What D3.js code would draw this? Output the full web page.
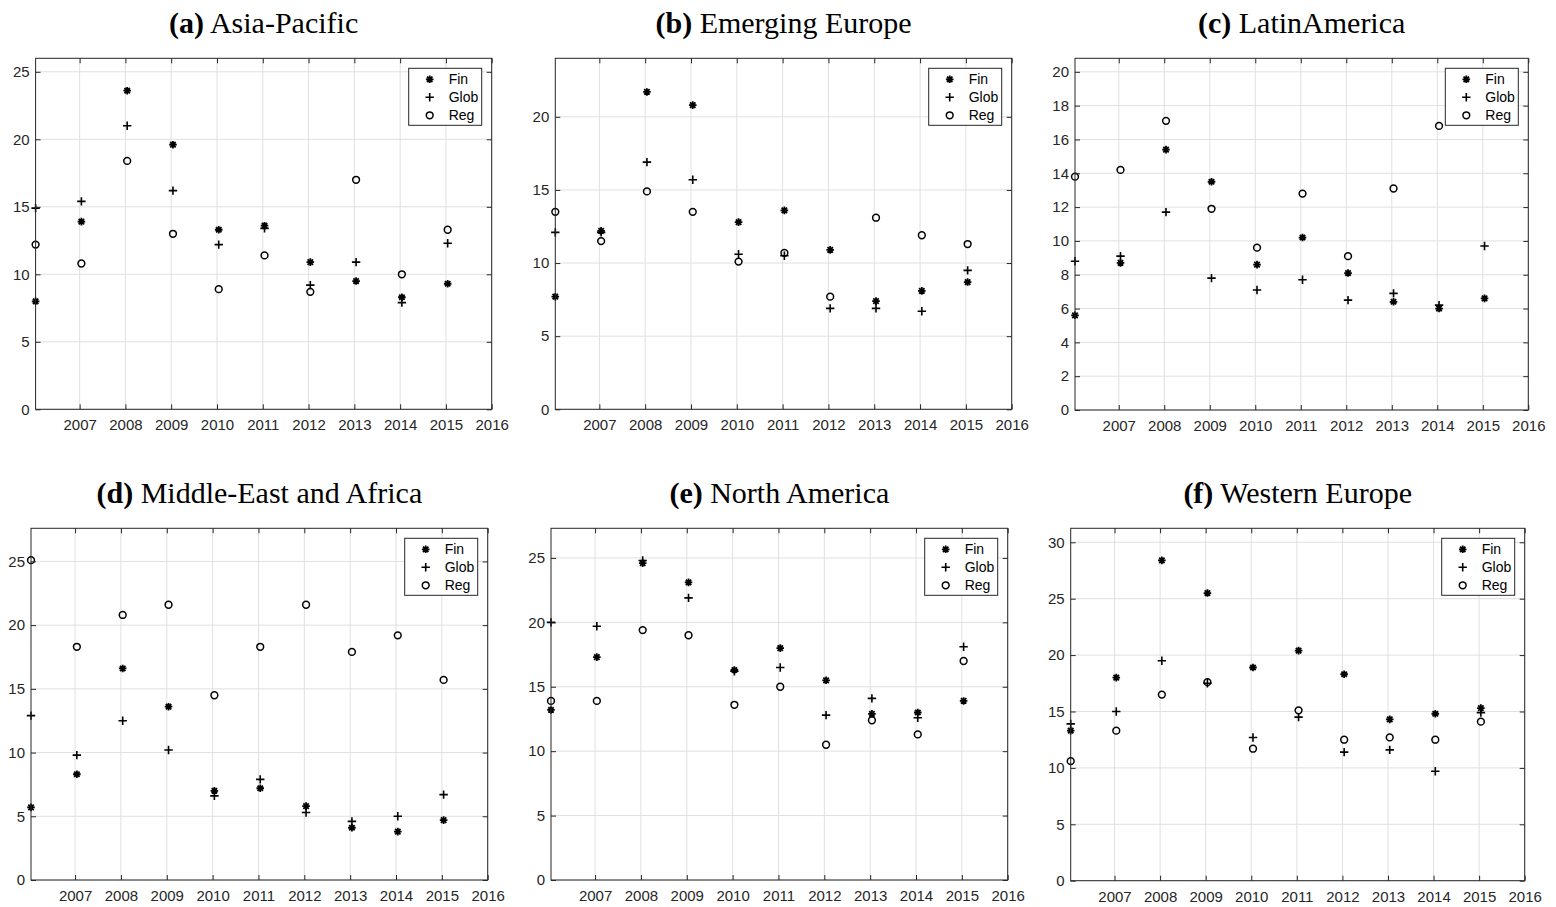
<!DOCTYPE html>
<html>
<head>
<meta charset="utf-8">
<script src="https://cdn.jsdelivr.net/npm/d3@7/dist/d3.min.js"></script>
<style>
  body { margin: 0; background: #fff; }
  svg text { font-family: "Liberation Sans", Arial, sans-serif; }
</style>
</head>
<body>
<div id="fig"></div>
<script>
// years (points sit at mid-January of each year)
var years = [2006, 2007, 2008, 2009, 2010, 2011, 2012, 2013, 2014, 2015];
var xTicks = [2007, 2008, 2009, 2010, 2011, 2012, 2013, 2014, 2015, 2016];
var seriesNames = ["Fin", "Glob", "Reg"];

var titleTags = ["(a)", "(b)", "(c)", "(d)", "(e)", "(f)"];
var titleNames = ["Asia-Pacific", "Emerging Europe", "LatinAmerica", "Middle-East and Africa", "North America", "Western Europe"];

// (a) Asia-Pacific
var asiaFin  = [8.0, 13.9, 23.6, 19.6, 13.3, 13.6, 10.9, 9.5, 8.3, 9.3];
var asiaGlob = [14.9, 15.4, 21.0, 16.2, 12.2, 13.4, 9.2, 10.9, 7.9, 12.3];
var asiaReg  = [12.2, 10.8, 18.4, 13.0, 8.9, 11.4, 8.7, 17.0, 10.0, 13.3];
// (b) Emerging Europe
var eeFin  = [7.7, 12.2, 21.7, 20.8, 12.8, 13.6, 10.9, 7.4, 8.1, 8.7];
var eeGlob = [12.1, 12.1, 16.9, 15.7, 10.6, 10.5, 6.9, 6.9, 6.7, 9.5];
var eeReg  = [13.5, 11.5, 14.9, 13.5, 10.1, 10.7, 7.7, 13.1, 11.9, 11.3];
// (c) LatinAmerica
var laFin  = [5.6, 8.7, 15.4, 13.5, 8.6, 10.2, 8.1, 6.4, 6.0, 6.6];
var laGlob = [8.8, 9.1, 11.7, 7.8, 7.1, 7.7, 6.5, 6.9, 6.2, 9.7];
var laReg  = [13.8, 14.2, 17.1, 11.9, 9.6, 12.8, 9.1, 13.1, 16.8, 18.9];
// (d) Middle-East and Africa
var meaFin  = [5.7, 8.3, 16.6, 13.6, 7.0, 7.2, 5.8, 4.1, 3.8, 4.7];
var meaGlob = [12.9, 9.8, 12.5, 10.2, 6.6, 7.9, 5.3, 4.6, 5.0, 6.7];
var meaReg  = [25.1, 18.3, 20.8, 21.6, 14.5, 18.3, 21.6, 17.9, 19.2, 15.7];
// (e) North America
var naFin  = [13.2, 17.3, 24.6, 23.1, 16.3, 18.0, 15.5, 12.9, 13.0, 13.9];
var naGlob = [20.0, 19.7, 24.8, 21.9, 16.2, 16.5, 12.8, 14.1, 12.6, 18.1];
var naReg  = [13.9, 13.9, 19.4, 19.0, 13.6, 15.0, 10.5, 12.4, 11.3, 17.0];
// (f) Western Europe
var weFin  = [13.3, 18.0, 28.4, 25.5, 18.9, 20.4, 18.3, 14.3, 14.8, 15.3];
var weGlob = [13.9, 15.0, 19.5, 17.5, 12.7, 14.5, 11.4, 11.6, 9.7, 14.9];
var weReg  = [10.6, 13.3, 16.5, 17.6, 11.7, 15.1, 12.5, 12.7, 12.5, 14.1];

var yMaxes  = [26, 24, 20.8, 27.6, 27.3, 31.24];
var yTopTicks = [25, 20, 20, 25, 25, 30];
var ySteps  = [5, 5, 2, 5, 5, 5];

var finData  = [asiaFin, eeFin, laFin, meaFin, naFin, weFin];
var globData = [asiaGlob, eeGlob, laGlob, meaGlob, naGlob, weGlob];
var regData  = [asiaReg, eeReg, laReg, meaReg, naReg, weReg];

var W = 1556, H = 907;
var axisColor = "#262626";
var gridColor = "#e0e0e0";
var dayOffset = 14 / 365;

// plot boxes [left, right, top, bottom]
var boxes = [
  [35.6, 491.7, 58.3, 409.3],
  [555.3, 1011.7, 58.3, 409.3],
  [1075, 1528.3, 58.3, 410],
  [31, 487.7, 528.3, 880],
  [551, 1007.7, 528.3, 880],
  [1070.7, 1524.7, 528.3, 880.7]
];

var svg = d3.select("#fig").append("svg")
  .attr("width", W)
  .attr("height", H);

// marker shapes, MATLAB style
function markerPath(kind) {
  if (kind == "Fin") {
    var r = 3.8, d = 2.7;
    return "M" + (-r) + ",0L" + r + ",0M0," + (-r) + "L0," + r +
           "M" + (-d) + "," + (-d) + "L" + d + "," + d +
           "M" + (-d) + "," + d + "L" + d + "," + (-d);
  }
  if (kind == "Glob") {
    var s = 4.2;
    return "M" + (-s) + ",0L" + s + ",0M0," + (-s) + "L0," + s;
  }
  return null;
}

function drawMarkers(g, kind, pts) {
  if (kind == "Reg") {
    g.selectAll("circle.m")
      .data(pts)
      .enter()
      .append("circle")
      .attr("class", "m")
      .attr("cx", function(d) { return d[0]; })
      .attr("cy", function(d) { return d[1]; })
      .attr("r", 3.4)
      .attr("fill", "none")
      .attr("stroke", "#000")
      .attr("stroke-width", 1.5);
  } else {
    g.selectAll("path.m" + kind)
      .data(pts)
      .enter()
      .append("path")
      .attr("class", "m" + kind)
      .attr("d", markerPath(kind))
      .attr("transform", function(d) { return "translate(" + d[0] + "," + d[1] + ")"; })
      .attr("fill", "none")
      .attr("stroke", "#000")
      .attr("stroke-width", kind == "Fin" ? 1.8 : 1.6);
  }
}

function drawPanel(i) {
  var b = boxes[i];
  var left = b[0], right = b[1], top = b[2], bottom = b[3];

  var x = d3.scaleLinear()
    .domain([2006 + dayOffset, 2016])
    .range([left, right]);

  var y = d3.scaleLinear()
    .domain([0, yMaxes[i]])
    .range([bottom, top]);

  var yTicks = d3.range(0, yTopTicks[i] + 0.001, ySteps[i]);

  var g = svg.append("g");

  // title
  var title = g.append("text")
    .attr("x", (left + right) / 2)
    .attr("y", top - 25.5)
    .attr("text-anchor", "middle")
    .style("font-family", "'Liberation Serif', 'Times New Roman', serif")
    .style("font-size", "30px")
    .attr("fill", "#000");
  title.append("tspan").attr("font-weight", "bold").text(titleTags[i]);
  title.append("tspan").text(" " + titleNames[i]);

  // grid
  g.selectAll("line.gx")
    .data(xTicks)
    .enter()
    .append("line")
    .attr("x1", function(d) { return x(d); })
    .attr("x2", function(d) { return x(d); })
    .attr("y1", top)
    .attr("y2", bottom)
    .attr("stroke", gridColor)
    .attr("stroke-width", 1);

  g.selectAll("line.gy")
    .data(yTicks)
    .enter()
    .append("line")
    .attr("x1", left)
    .attr("x2", right)
    .attr("y1", function(d) { return y(d); })
    .attr("y2", function(d) { return y(d); })
    .attr("stroke", gridColor)
    .attr("stroke-width", 1);

  // data
  var sets = [finData[i], globData[i], regData[i]];
  seriesNames.forEach(function(name, k) {
    var pts = years.map(function(yr, j) { return [x(yr + dayOffset), y(sets[k][j])]; });
    drawMarkers(g.append("g"), name, pts);
  });

  // axes (ticks point inward)
  var axB = g.append("g")
    .attr("transform", "translate(0," + bottom + ")")
    .call(d3.axisBottom(x).tickValues(xTicks).tickFormat(d3.format("d"))
      .tickSizeInner(-5).tickSizeOuter(0).tickPadding(10.5));
  var axT = g.append("g")
    .attr("transform", "translate(0," + top + ")")
    .call(d3.axisTop(x).tickValues(xTicks).tickFormat("")
      .tickSizeInner(-5).tickSizeOuter(0));
  var axL = g.append("g")
    .attr("transform", "translate(" + left + ",0)")
    .call(d3.axisLeft(y).tickValues(yTicks).tickFormat(d3.format("d"))
      .tickSizeInner(-5).tickSizeOuter(0).tickPadding(6));
  var axR = g.append("g")
    .attr("transform", "translate(" + right + ",0)")
    .call(d3.axisRight(y).tickValues(yTicks).tickFormat("")
      .tickSizeInner(-5).tickSizeOuter(0));

  [axB, axT, axL, axR].forEach(function(a) {
    a.select(".domain").remove();
    a.selectAll(".tick line").attr("stroke", axisColor);
    a.selectAll(".tick text")
      .attr("fill", axisColor)
      .style("font-family", "'Liberation Sans', Arial, sans-serif")
      .style("font-size", "15px");
  });

  g.append("rect")
    .attr("x", left)
    .attr("y", top)
    .attr("width", right - left)
    .attr("height", bottom - top)
    .attr("fill", "none")
    .attr("stroke", axisColor)
    .attr("stroke-width", 1);

  // legend
  var lw = 73, lh = 57;
  var lx = right - 10 - lw, ly = top + 10;
  var leg = g.append("g").attr("transform", "translate(" + lx + "," + ly + ")");
  leg.append("rect")
    .attr("width", lw)
    .attr("height", lh)
    .attr("fill", "#fff")
    .attr("stroke", axisColor)
    .attr("stroke-width", 1);

  seriesNames.forEach(function(name, k) {
    var cy = 11 + k * 18;
    drawMarkers(leg.append("g"), name, [[21, cy]]);
    leg.append("text")
      .attr("x", 40)
      .attr("y", cy)
      .attr("dy", "0.36em")
      .style("font-size", "14px")
      .attr("fill", "#000")
      .text(name);
  });
}

for (var i = 0; i < 6; i++) {
  drawPanel(i);
}
</script>
</body>
</html>
